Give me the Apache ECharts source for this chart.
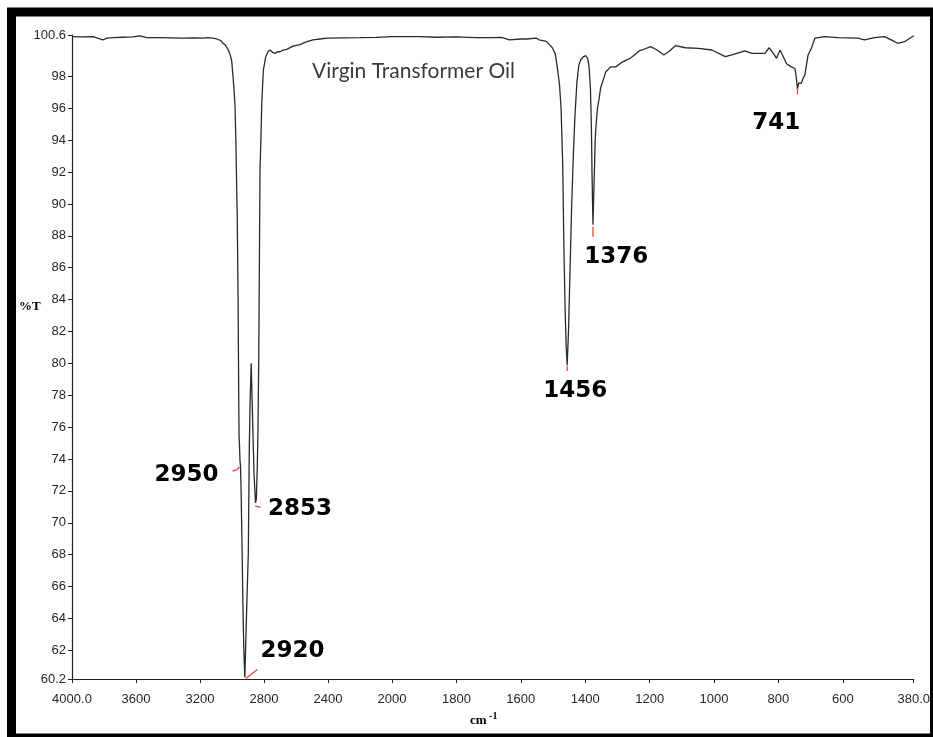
<!DOCTYPE html>
<html>
<head>
<meta charset="utf-8">
<title>Virgin Transformer Oil – FTIR</title>
<script src="https://cdn.jsdelivr.net/npm/echarts@6/dist/echarts.min.js"></script>
<style>
  html, body { margin: 0; padding: 0; background: #fff; }
  #chart { width: 933px; height: 737px; }
</style>
</head>
<body>
<div id="chart"></div>
<script>
// FTIR transmission spectrum, [wavenumber cm-1, %T]
// 4000–2000 cm-1 region (compressed scale)
const spectrumHigh = [
  [4000, 100.5], [3940, 100.48], [3867, 100.5], [3808, 100.3], [3780, 100.4], [3744, 100.43],
  [3680, 100.46], [3619, 100.48], [3575, 100.55], [3533, 100.43], [3450, 100.43], [3380, 100.42],
  [3306, 100.4], [3240, 100.42], [3181, 100.4], [3150, 100.43], [3120, 100.4], [3096, 100.35],
  [3070, 100.25], [3056, 100.08], [3040, 99.95], [3033, 99.87], [3020, 99.6], [3013, 99.4],
  [3002, 99.0], [2992, 97.8], [2985, 96.8], [2981, 96.1], [2975, 93.6], [2971, 91.1],
  [2967, 89.0], [2962, 84.0], [2958, 78.0], [2956, 75.5], [2953, 74.8], [2950, 73.9],
  [2947, 73.6], [2944, 72.5], [2938, 69.0], [2932, 65.0], [2926, 62.0], [2920, 60.3],
  [2915, 62.0], [2908, 64.7], [2898, 68.1], [2892, 74.6], [2887, 77.5], [2880, 80.0],
  [2875, 78.0], [2870, 76.0], [2862, 73.0], [2856, 71.8], [2853, 71.25], [2848, 71.5],
  [2842, 73.5], [2838, 75.6], [2833, 80.0], [2829, 86.0], [2825, 92.1], [2819, 94.2],
  [2814, 96.3], [2804, 98.4], [2789, 99.24], [2775, 99.55], [2762, 99.66], [2745, 99.5],
  [2731, 99.45], [2715, 99.55], [2700, 99.55], [2680, 99.65], [2658, 99.7], [2620, 99.9],
  [2575, 100.0], [2540, 100.15], [2494, 100.3], [2450, 100.35], [2406, 100.4], [2300, 100.42],
  [2200, 100.43], [2100, 100.45], [2000, 100.5]
];

// 2000–380 cm-1 region (expanded scale)
const spectrumLow = [
  [2000, 100.5], [1913, 100.5], [1860, 100.46], [1800, 100.48], [1740, 100.44], [1688, 100.43],
  [1660, 100.45], [1635, 100.3], [1600, 100.35], [1583, 100.35], [1552, 100.4], [1543, 100.3],
  [1521, 100.2], [1502, 99.8], [1493, 99.4], [1487, 98.6], [1480, 97.5], [1475, 96.0],
  [1470, 92.5], [1466, 87.0], [1462, 83.0], [1459, 81.0], [1456, 79.9], [1452, 82.0],
  [1447, 86.0], [1442, 90.0], [1437, 93.0], [1432, 95.5], [1426, 97.6], [1420, 98.7],
  [1414, 99.05], [1405, 99.25], [1398, 99.3], [1392, 99.1], [1388, 98.6], [1384, 97.3],
  [1381, 95.0], [1379, 92.0], [1376, 88.7], [1373, 91.0], [1369, 94.0], [1367, 94.8],
  [1362, 96.0], [1357, 96.6], [1352, 97.3], [1347, 97.6], [1336, 98.3], [1321, 98.6],
  [1305, 98.6], [1300, 98.7], [1285, 98.9], [1264, 99.1], [1254, 99.24], [1233, 99.6],
  [1223, 99.66], [1197, 99.87], [1177, 99.66], [1156, 99.35], [1141, 99.55], [1120, 99.93],
  [1089, 99.8], [1048, 99.76], [1007, 99.66], [965, 99.24], [945, 99.35], [904, 99.6],
  [883, 99.45], [842, 99.45], [829, 99.8], [816, 99.45], [806, 99.14], [795, 99.66],
  [785, 99.24], [775, 98.8], [760, 98.6], [749, 98.5], [745, 98.0], [741, 97.2],
  [737, 97.6], [733, 97.67], [729, 97.57], [723, 97.9], [718, 98.1], [708, 99.35],
  [698, 99.76], [687, 100.4], [656, 100.5], [615, 100.43], [553, 100.4], [533, 100.29],
  [502, 100.43], [471, 100.5], [450, 100.29], [430, 100.08], [409, 100.18], [380, 100.55]
];

// Assigned absorption bands
const peakWavenumbers = [2950, 2920, 2853, 1456, 1376, 741];
const peakTransmittance = [73.9, 60.3, 71.25, 79.9, 88.7, 97.2];

// Axis tick values
const yTicks = [60.2, 62, 64, 66, 68, 70, 72, 74, 76, 78, 80, 82, 84, 86, 88, 90, 92, 94, 96, 98, 100.6];
const xTicksHigh = [4000, 3600, 3200, 2800, 2400, 2000];
const xTicksLow = [1800, 1600, 1400, 1200, 1000, 800, 600, 380];

const Y_MIN = 60.2, Y_MAX = 100.6;

// Per-peak annotation layout: red leader (px offsets from the peak) and label offset
const peakLayout = {
  2950: { tick: [[-7.5, 10.4], [-3, 9], [-0.5, 6.4]], label: [-53.5, 14.4] },
  2920: { tick: [[1, 1], [12.5, -8]], label: [47.7, -26] },
  2853: { tick: [[-0.5, 3], [5, 4.5]], label: [44.5, 5.7] },
  1456: { tick: [[0, 0.5], [0, 6]], label: [8, 26] },
  1376: { tick: [[0, 2], [0, 12]], label: [23.4, 32] },
  741:  { tick: [[0, -1], [0, 5]], label: [-21.3, 34] }
};

const peakData = peakWavenumbers.map((w, i) => [w, peakTransmittance[i]]);
const peaksHigh = peakData.filter(d => d[0] >= 2000);
const peaksLow = peakData.filter(d => d[0] < 2000);

function renderPeak(params, api) {
  const w = api.value(0);
  const p = api.coord([w, api.value(1)]);
  const lay = peakLayout[w];
  return {
    type: 'group',
    children: [
      {
        type: 'polyline',
        shape: { points: lay.tick.map(d => [p[0] + d[0], p[1] + d[1]]) },
        style: { stroke: '#e8463c', lineWidth: 1.3, fill: null }
      },
      {
        type: 'text',
        x: p[0] + lay.label[0],
        y: p[1] + lay.label[1],
        style: {
          text: String(w),
          font: 'bold 23px "DejaVu Sans"',
          fill: '#000',
          align: 'center',
          verticalAlign: 'middle'
        }
      }
    ]
  };
}

const tickFont = '"Liberation Sans", Arial, sans-serif';
const axisColor = '#222';

function xAxisCfg(gridIndex, min, max, ticks, fmt) {
  return {
    type: 'value', gridIndex, min, max, inverse: true,
    axisLine: { show: true, onZero: false, lineStyle: { color: axisColor, width: 1.2 } },
    axisTick: { show: true, length: 4, customValues: ticks, lineStyle: { color: axisColor } },
    axisLabel: {
      customValues: ticks, formatter: fmt, margin: 14,
      color: '#262626', fontSize: 13, fontFamily: tickFont
    },
    splitLine: { show: false }
  };
}

const chart = echarts.init(document.getElementById('chart'), null, { renderer: 'canvas' });

chart.setOption({
  animation: false,
  backgroundColor: '#fff',
  grid: [
    { left: 72, top: 35, width: 320, height: 644 },
    { left: 392, top: 35, width: 522, height: 644 }
  ],
  xAxis: [
    xAxisCfg(0, 2000, 4000, xTicksHigh, v => (v === 4000 ? '4000.0' : String(v))),
    xAxisCfg(1, 380, 2000, xTicksLow, v => (v === 380 ? '380.0' : String(v)))
  ],
  yAxis: [
    {
      type: 'value', gridIndex: 0, min: Y_MIN, max: Y_MAX,
      axisLine: { show: true, lineStyle: { color: axisColor, width: 1.2 } },
      axisTick: { show: true, length: 4, customValues: yTicks, lineStyle: { color: axisColor } },
      axisLabel: {
        customValues: yTicks, margin: 6, padding: [0, 0, 6, 0],
        formatter: v => (Number.isInteger(v) ? String(v) : v.toFixed(1)),
        color: '#262626', fontSize: 13, fontFamily: tickFont
      },
      splitLine: { show: false }
    },
    {
      type: 'value', gridIndex: 1, min: Y_MIN, max: Y_MAX, show: false,
      splitLine: { show: false }
    }
  ],
  series: [
    {
      type: 'line', xAxisIndex: 0, yAxisIndex: 0, data: spectrumHigh,
      showSymbol: false, lineStyle: { color: '#2a2a2a', width: 1.3 }
    },
    {
      type: 'line', xAxisIndex: 1, yAxisIndex: 1, data: spectrumLow,
      showSymbol: false, lineStyle: { color: '#2a2a2a', width: 1.3 }
    },
    {
      type: 'custom', xAxisIndex: 0, yAxisIndex: 0, data: peaksHigh,
      renderItem: renderPeak, z: 5, clip: false
    },
    {
      type: 'custom', xAxisIndex: 1, yAxisIndex: 1, data: peaksLow,
      renderItem: renderPeak, z: 5, clip: false
    }
  ],
  graphic: [
    // heavy frame around the figure
    {
      type: 'rect', z: 10, silent: true,
      shape: { x: 11.5, y: 12, width: 923, height: 726 },
      style: { fill: null, stroke: '#000', lineWidth: 9 }
    },
    {
      type: 'text', left: 312, top: 61,
      style: { text: 'Virgin Transformer Oil', font: '21px Lato', fill: '#3a3a3a' }
    },
    {
      type: 'text', left: 19, top: 300,
      style: { text: '%T', font: 'bold 13px "Liberation Serif"', fill: '#000' }
    },
    {
      type: 'text', left: 470, top: 711,
      style: {
        text: '{a|cm}{b| -1}',
        rich: {
          a: { font: 'bold 13px "Liberation Serif"', fill: '#000', padding: [10, 0, 0, 0] },
          b: { font: 'bold 10px "Liberation Serif"', fill: '#000' }
        }
      }
    }
  ]
});
</script>
</body>
</html>
